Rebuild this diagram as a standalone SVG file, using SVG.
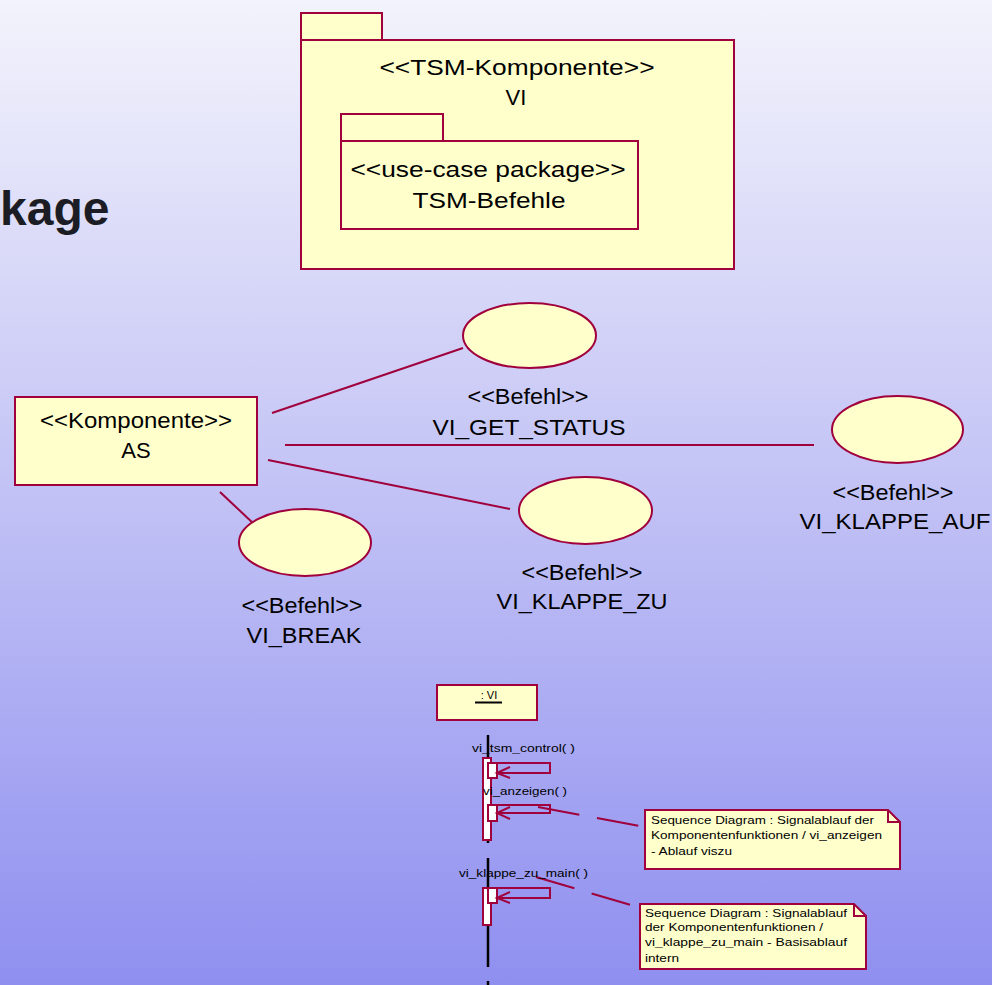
<svg xmlns="http://www.w3.org/2000/svg" width="992" height="985" viewBox="0 0 992 985">
<defs>
<linearGradient id="bg" x1="0" y1="0" x2="0" y2="1">
<stop offset="0" stop-color="#f3f3fc"/>
<stop offset="0.45" stop-color="#c7c7f6"/>
<stop offset="1" stop-color="#8f8ff0"/>
</linearGradient>
<style>
.sh{fill:#ffffcc;stroke:#a0003c;stroke-width:2}
.ln{fill:none;stroke:#a0003c;stroke-width:2}
.act{fill:#ffffff;stroke:#a0003c;stroke-width:2}
.t{font-family:"Liberation Sans",Arial,sans-serif;font-size:22px;fill:#000;text-anchor:middle}
.s{font-family:"Liberation Sans",Arial,sans-serif;font-size:11px;fill:#000}
.life{stroke:#000;stroke-width:2.5}
</style>
</defs>
<rect x="0" y="0" width="992" height="985" fill="url(#bg)"/>
<text x="0" y="225" font-family="Liberation Sans,Arial,sans-serif" font-size="48" font-weight="bold" fill="#1c1c24">kage</text>

<g id="pkg-vi">
<rect class="sh" x="301" y="13" width="81" height="27"/>
<rect class="sh" x="301" y="40" width="433" height="229"/>
<text class="t" x="517" y="75" textLength="275" lengthAdjust="spacingAndGlyphs">&lt;&lt;TSM-Komponente&gt;&gt;</text>
<text class="t" x="516" y="105">VI</text>
</g>
<g id="pkg-befehle">
<rect class="sh" x="341" y="114" width="102" height="27"/>
<rect class="sh" x="341" y="141" width="297" height="88"/>
<text class="t" x="488" y="177" textLength="275" lengthAdjust="spacingAndGlyphs">&lt;&lt;use-case package&gt;&gt;</text>
<text class="t" x="489" y="208" textLength="153" lengthAdjust="spacingAndGlyphs">TSM-Befehle</text>
</g>

<g id="connectors">
<line class="ln" x1="272" y1="413" x2="463" y2="348"/>
<line class="ln" x1="285" y1="445" x2="814" y2="445"/>
<line class="ln" x1="268" y1="460" x2="510" y2="509"/>
<line class="ln" x1="220" y1="492" x2="254" y2="524"/>
<line class="ln" x1="538" y1="807" x2="645" y2="827" stroke-dasharray="42 18"/>
<line class="ln" x1="536" y1="877" x2="641" y2="908" stroke-dasharray="40 18"/>
</g>

<g id="as">
<rect class="sh" x="15" y="397" width="242" height="88"/>
<text class="t" x="136" y="428" textLength="192" lengthAdjust="spacingAndGlyphs">&lt;&lt;Komponente&gt;&gt;</text>
<text class="t" x="136" y="458">AS</text>
</g>
<g id="uc-get-status">
<ellipse class="sh" cx="529.5" cy="335.5" rx="66.5" ry="32.5"/>
<text class="t" x="528" y="404" textLength="121" lengthAdjust="spacingAndGlyphs">&lt;&lt;Befehl&gt;&gt;</text>
<text class="t" x="529" y="435" textLength="193" lengthAdjust="spacingAndGlyphs">VI_GET_STATUS</text>
</g>
<g id="uc-klappe-auf">
<ellipse class="sh" cx="897.5" cy="429.5" rx="65.5" ry="33.5"/>
<text class="t" x="893" y="500" textLength="121" lengthAdjust="spacingAndGlyphs">&lt;&lt;Befehl&gt;&gt;</text>
<text class="t" x="895" y="529" textLength="191" lengthAdjust="spacingAndGlyphs">VI_KLAPPE_AUF</text>
</g>
<g id="uc-klappe-zu">
<ellipse class="sh" cx="585.5" cy="510.5" rx="66.5" ry="33.5"/>
<text class="t" x="582" y="580" textLength="121" lengthAdjust="spacingAndGlyphs">&lt;&lt;Befehl&gt;&gt;</text>
<text class="t" x="582" y="609" textLength="171" lengthAdjust="spacingAndGlyphs">VI_KLAPPE_ZU</text>
</g>
<g id="uc-break">
<ellipse class="sh" cx="305" cy="542.5" rx="66" ry="33.5"/>
<text class="t" x="302" y="613" textLength="121" lengthAdjust="spacingAndGlyphs">&lt;&lt;Befehl&gt;&gt;</text>
<text class="t" x="304" y="643" textLength="115" lengthAdjust="spacingAndGlyphs">VI_BREAK</text>
</g>

<g id="obj-vi">
<rect class="sh" x="437" y="685" width="100" height="35"/>
<text class="s" x="489" y="699" text-anchor="middle">: VI</text>
<line x1="475" y1="702.5" x2="502" y2="702.5" stroke="#000" stroke-width="2"/>
</g>

<g id="lifeline">
<line class="life" x1="488" y1="735" x2="488" y2="843"/>
<line class="life" x1="488" y1="858" x2="488" y2="967"/>
<line class="life" x1="488" y1="981" x2="488" y2="985"/>
</g>

<g id="msg-tsm-control">
<rect class="act" x="483" y="758" width="8" height="82"/>
<rect class="act" x="488" y="763" width="9" height="15"/>
<polyline class="ln" points="497,763 550,763 550,773 497,773"/>
<polyline class="ln" points="510,767 497,773 510,778"/>
<text class="s" x="472" y="752" textLength="103" lengthAdjust="spacingAndGlyphs">vi_tsm_control( )</text>
</g>
<g id="msg-anzeigen">
<rect class="act" x="488" y="805" width="9" height="16"/>
<polyline class="ln" points="497,805 550,805 550,813 497,813"/>
<polyline class="ln" points="510,807 497,813 510,819"/>
<text class="s" x="483" y="795" textLength="84" lengthAdjust="spacingAndGlyphs">vi_anzeigen( )</text>
</g>
<g id="msg-klappe-zu-main">
<rect class="act" x="483" y="888" width="8" height="37"/>
<rect class="act" x="488" y="888" width="9" height="15"/>
<polyline class="ln" points="497,888 550,888 550,898 497,898"/>
<polyline class="ln" points="510,892 497,898 510,903"/>
<text class="s" x="459" y="877" textLength="129" lengthAdjust="spacingAndGlyphs">vi_klappe_zu_main( )</text>
</g>

<g id="note-anzeigen">
<path class="sh" d="M645,810 H888 L900,822 V869 H645 Z"/>
<polyline class="ln" points="888,810 888,822 900,822"/>
<text class="s" x="651" y="824" textLength="223" lengthAdjust="spacingAndGlyphs">Sequence Diagram : Signalablauf der</text>
<text class="s" x="651" y="839" textLength="231" lengthAdjust="spacingAndGlyphs">Komponentenfunktionen / vi_anzeigen</text>
<text class="s" x="651" y="855" textLength="81" lengthAdjust="spacingAndGlyphs">- Ablauf viszu</text>
</g>
<g id="note-klappe-zu-main">
<path class="sh" d="M640,904 H854 L866,916 V969 H640 Z"/>
<polyline class="ln" points="854,904 854,916 866,916"/>
<text class="s" x="645" y="917" textLength="202" lengthAdjust="spacingAndGlyphs">Sequence Diagram : Signalablauf</text>
<text class="s" x="645" y="931" textLength="178" lengthAdjust="spacingAndGlyphs">der Komponentenfunktionen /</text>
<text class="s" x="645" y="946" textLength="202" lengthAdjust="spacingAndGlyphs">vi_klappe_zu_main - Basisablauf</text>
<text class="s" x="645" y="962" textLength="34" lengthAdjust="spacingAndGlyphs">intern</text>
</g>
</svg>
